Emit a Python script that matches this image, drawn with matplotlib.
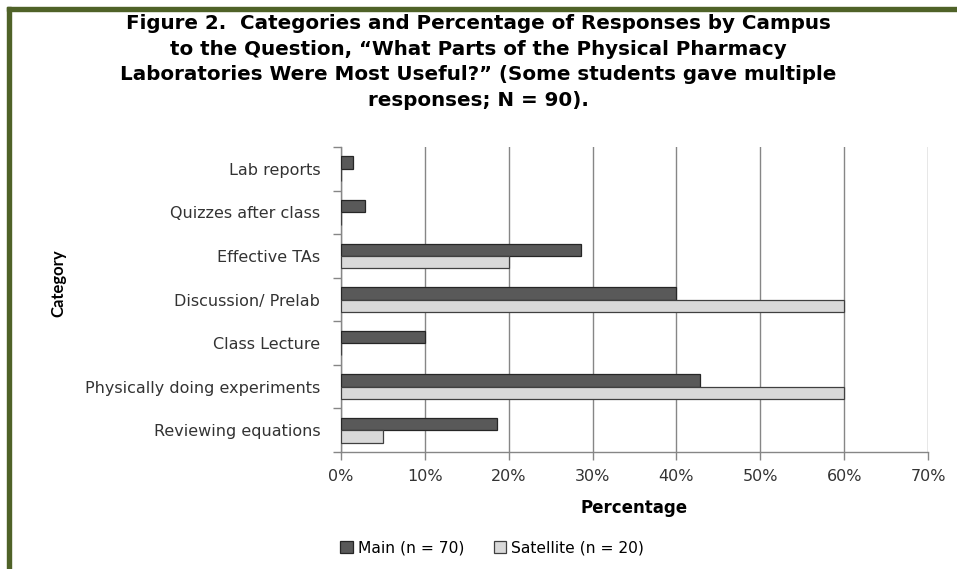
import numpy as np
import matplotlib
matplotlib.use("Agg")
import matplotlib.pyplot as plt
from matplotlib.patches import Rectangle

# data (top to bottom)
categories = ["Lab reports", "Quizzes after class", "Effective TAs", "Discussion/ Prelab",
              "Class Lecture", "Physically doing experiments", "Reviewing equations"]
main_pct = [1.43, 2.86, 28.57, 40.0, 10.0, 42.86, 18.57]
satellite_pct = [0, 0, 20.0, 60.0, 0, 60.0, 5.0]
xticks = [0, 10, 20, 30, 40, 50, 60, 70]
xtick_labels = ["0%", "10%", "20%", "30%", "40%", "50%", "60%", "70%"]

title = ("Figure 2.  Categories and Percentage of Responses by Campus\n"
         "to the Question, \u201cWhat Parts of the Physical Pharmacy\n"
         "Laboratories Were Most Useful?\u201d (Some students gave multiple\n"
         "responses; N = 90).")

plt.rcParams['font.family'] = ['DejaVu Sans']

fig = plt.figure(figsize=(9.57, 5.69), dpi=100)
ax = fig.add_axes([341/957, 1-452/569, (928-341)/957, (452-147)/569])

# frame around chart (only top and left visible in reference)
border = '#4f6228'
fig.patches.append(Rectangle((7/957, 0), 4/957, 1-7/569, transform=fig.transFigure,
                             color=border, zorder=5))
fig.patches.append(Rectangle((7/957, 1-11/569), 1-7/957, 4/569, transform=fig.transFigure,
                             color=border, zorder=5))

n = len(categories)
y = np.arange(n)
h = 0.285
ax.barh(y - h/2, main_pct, height=h, color='#595959', edgecolor='#262626',
        linewidth=0.9, label='Main (n = 70)', zorder=3)
ax.barh(y + h/2, satellite_pct, height=h, color='#d9d9d9', edgecolor='#404040',
        linewidth=0.9, label='Satellite (n = 20)', zorder=3)

txt = '#333333'
ax.set_ylim(n - 0.5, -0.5)
ax.set_xlim(0, 70)
ax.set_xticks(xticks)
ax.set_xticklabels(xtick_labels, fontsize=11.5, color=txt)
ax.set_yticks(y)
ax.set_yticklabels(categories, fontsize=11.5, color=txt)
ax.set_yticks(np.arange(n + 1) - 0.5, minor=True)
ax.tick_params(axis='y', which='major', length=0, pad=15)
ax.tick_params(axis='y', which='minor', length=6, color='#868686', width=1)
ax.tick_params(axis='x', length=6, color='#868686', width=1, pad=6)

ax.grid(axis='x', color='#868686', linewidth=1, zorder=0)
for s in ['top', 'right']:
    ax.spines[s].set_visible(False)
for s in ['left', 'bottom']:
    ax.spines[s].set_color('#868686')
    ax.spines[s].set_linewidth(1)

fig.text(0.5, 1-62/569, title, ha='center', va='center', fontsize=14.3,
         fontweight='bold', linespacing=1.45)
fig.text(634/957, 1-508/569, "Percentage", ha='center', va='center',
         fontsize=12, fontweight='bold')
fig.text(58/957, 1-283/569, "Category", ha='center', va='center', rotation=90,
         fontsize=12, fontweight='bold', family='Lato')

fig.legend(loc='center', bbox_to_anchor=(492/957, 1-548/569), ncol=2, frameon=False,
           fontsize=11.2, handlelength=0.8, handleheight=0.8, handletextpad=0.3,
           columnspacing=1.9)

fig.savefig("out.png", dpi=100, facecolor='white')
